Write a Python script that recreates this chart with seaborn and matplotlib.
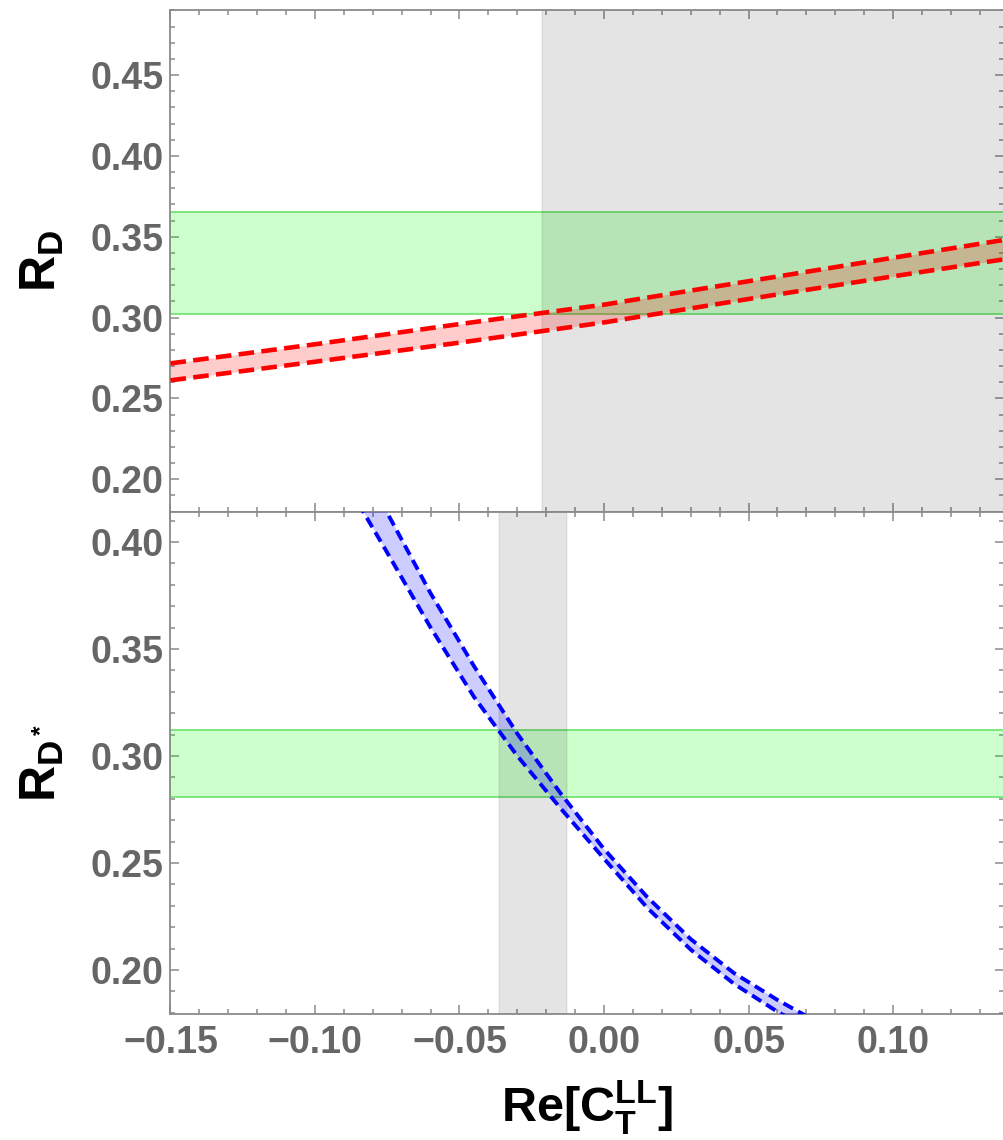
import matplotlib
matplotlib.use("Agg")
import matplotlib.pyplot as plt
from matplotlib.ticker import MultipleLocator, FuncFormatter
import seaborn as sns

# values
# R_D band (red), top panel
rd_x = [-0.15, -0.10, -0.05, 0.00, 0.05, 0.10, 0.14]
rd_upper = [0.2717, 0.2835, 0.2960, 0.3080, 0.3225, 0.3370, 0.3485]
rd_lower = [0.2612, 0.2727, 0.2845, 0.2970, 0.3115, 0.3255, 0.3365]

# R_D* band (blue), bottom panel
rds_x = [-0.085, -0.075, -0.06, -0.045, -0.03, -0.015, 0.0, 0.015, 0.03, 0.045, 0.06, 0.07]
rds_upper = [0.440, 0.4136, 0.376, 0.342, 0.3104, 0.2825, 0.2565, 0.234, 0.2144, 0.1985, 0.186, 0.1785]
rds_lower = [0.418, 0.395, 0.360, 0.3276, 0.300, 0.2755, 0.252, 0.229, 0.2095, 0.1935, 0.1805, 0.173]

# experimental bands (green) and allowed C_T ranges (gray)
rd_exp = (0.3025, 0.3655)
rds_exp = (0.2808, 0.3121)
rd_allowed = (-0.0214, 0.16)
rds_allowed = (-0.0362, -0.0128)

xlim = (-0.15, 0.1384)
rd_ylim = (0.1798, 0.4902)
rds_ylim = (0.1794, 0.414)

sns.set_theme(style="ticks")
plt.rcParams["font.family"] = ["Liberation Sans", "DejaVu Sans"]
plt.rcParams["font.weight"] = "bold"
plt.rcParams["mathtext.fontset"] = "custom"
plt.rcParams["mathtext.rm"] = "Liberation Sans:bold"
plt.rcParams["mathtext.bf"] = "Liberation Sans:bold"
plt.rcParams["mathtext.it"] = "Liberation Sans:bold"

fig = plt.figure(figsize=(10.04, 11.40), dpi=100)
ax1 = fig.add_axes([0.1698, 0.5509, 0.8302, 0.4403])
ax2 = fig.add_axes([0.1698, 0.1105, 0.8302, 0.4404])

fmt = FuncFormatter(lambda v, _: ("%.2f" % (0.0 if abs(v) < 1e-9 else v)).replace("-", "\u2212"))


def style(ax, ylim):
    ax.set_xlim(xlim)
    ax.set_ylim(ylim)
    ax.xaxis.set_major_locator(MultipleLocator(0.05))
    ax.xaxis.set_minor_locator(MultipleLocator(0.01))
    ax.yaxis.set_major_locator(MultipleLocator(0.05))
    ax.yaxis.set_minor_locator(MultipleLocator(0.01))
    ax.xaxis.set_major_formatter(fmt)
    ax.yaxis.set_major_formatter(fmt)
    ax.tick_params(which="both", direction="in", top=True, right=True,
                   color="#8a8a8a", width=1.1, labelcolor="#666666", labelsize=27)
    ax.tick_params(which="major", length=6.5)
    ax.tick_params(which="minor", length=3.5)
    ax.tick_params(axis="x", pad=8)
    ax.tick_params(axis="y", pad=5)
    for s in ax.spines.values():
        s.set_color("#8a8a8a")
        s.set_linewidth(1.3)
    ax.spines["right"].set_visible(False)
    ax.set_facecolor("white")


red_dash = (0, (3.4, 1.6))
blue_dash = (0, (2.8, 1.5))

# top panel: R_D
ax1.axhspan(*rd_exp, facecolor=(0, 1, 0, 0.2), edgecolor="#6be36b", lw=1.2, zorder=1)
ax1.axvspan(*rd_allowed, facecolor=(0, 0, 0, 0.105), edgecolor=(0, 0, 0, 0.06), lw=1.2, zorder=2)
ax1.fill_between(rd_x, rd_lower, rd_upper, color="red", alpha=0.2, lw=0, zorder=3)
sns.lineplot(x=rd_x, y=rd_upper, ax=ax1, color="#ff0000", lw=3.3, linestyle=red_dash, sort=False, zorder=4)
sns.lineplot(x=rd_x, y=rd_lower, ax=ax1, color="#ff0000", lw=3.3, linestyle=red_dash, sort=False, zorder=4)
style(ax1, rd_ylim)
ax1.tick_params(axis="x", labelbottom=False)
ax1.set_ylabel(r"$\mathrm{R_D}$", fontsize=36, color="black")
ax1.yaxis.set_label_coords(-0.125, 0.5)

# bottom panel: R_D*
ax2.axhspan(*rds_exp, facecolor=(0, 1, 0, 0.2), edgecolor="#6be36b", lw=1.2, zorder=1)
ax2.axvspan(*rds_allowed, facecolor=(0, 0, 0, 0.105), edgecolor=(0, 0, 0, 0.06), lw=1.2, zorder=2)
ax2.fill_between(rds_x, rds_lower, rds_upper, color="blue", alpha=0.2, lw=0, zorder=3)
sns.lineplot(x=rds_x, y=rds_upper, ax=ax2, color="#0000ff", lw=2.8, linestyle=blue_dash, sort=False, zorder=4)
sns.lineplot(x=rds_x, y=rds_lower, ax=ax2, color="#0000ff", lw=2.8, linestyle=blue_dash, sort=False, zorder=4)
style(ax2, rds_ylim)
ax2.set_ylabel(r"$\mathrm{R_{D^*}}$", fontsize=36, color="black")
ax2.yaxis.set_label_coords(-0.125, 0.5)
ax2.set_xlabel(r"$\mathrm{Re[C_T^{LL}]}$", fontsize=35, color="black", va="top")
ax2.xaxis.set_label_coords(0.5, -0.128)

fig.savefig("out.png", dpi=100, facecolor="white")
